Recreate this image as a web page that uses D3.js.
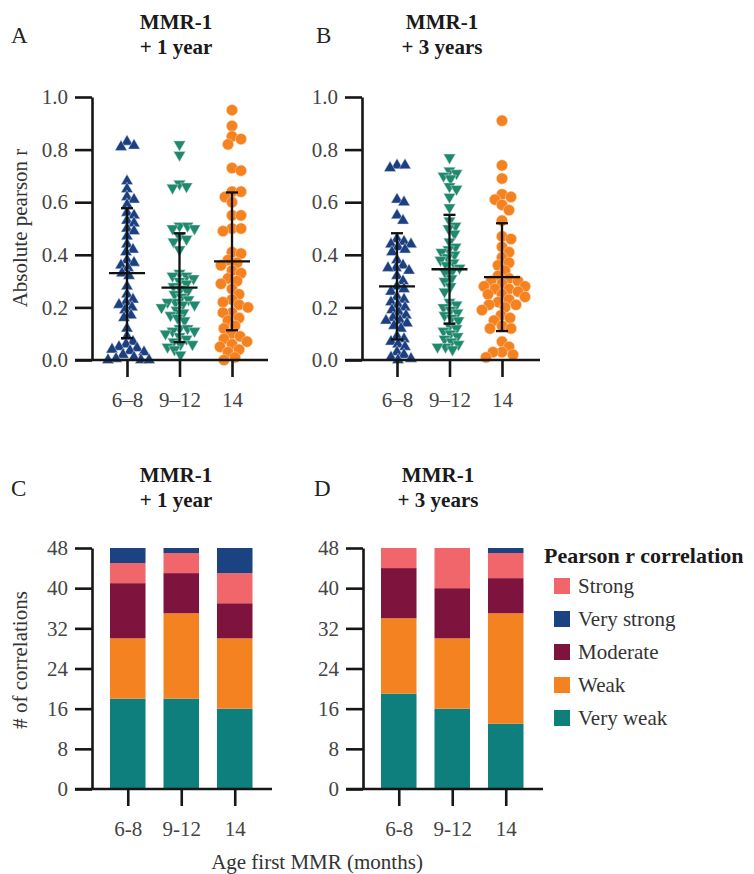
<!DOCTYPE html>
<html>
<head>
<meta charset="utf-8">
<script src="https://cdn.jsdelivr.net/npm/d3@7"></script>
</head>
<body style="margin:0">
<svg id="chart" width="754" height="874"></svg>
<script>
// ---------------- DATA ----------------
const groups = ["6–8", "9–12", "14"];
const barGroups = ["6-8", "9-12", "14"];

// Panel A: MMR-1 + 1 year (absolute pearson r)
const a_6_8 = [0.81, 0.815, 0.83, 0.68, 0.65, 0.62, 0.61, 0.59, 0.56, 0.55, 0.53, 0.52, 0.50, 0.49, 0.47, 0.44, 0.42, 0.41,
  0.38, 0.37, 0.36, 0.35, 0.33, 0.32, 0.28, 0.25, 0.23, 0.22, 0.21, 0.20,
  0.19, 0.17, 0.16, 0.12, 0.09, 0.07, 0.06, 0.05, 0.045, 0.04, 0.035, 0.03, 0.02, 0.01, 0.005, 0.0, 0.0, 0.0];
const a_9_12 = [0.82, 0.78, 0.67, 0.66, 0.655, 0.51, 0.51, 0.50, 0.50, 0.47, 0.46, 0.45, 0.42,
  0.33, 0.32, 0.32, 0.31, 0.30, 0.29, 0.28, 0.27, 0.26, 0.25, 0.24, 0.23, 0.22, 0.22, 0.21, 0.21, 0.20,
  0.19, 0.18, 0.17, 0.16, 0.15, 0.12, 0.12, 0.11, 0.11, 0.10, 0.09, 0.08, 0.07, 0.06, 0.06, 0.05, 0.04, 0.02];
const a_14 = [0.95, 0.89, 0.85, 0.84, 0.82, 0.73, 0.72, 0.64, 0.64, 0.62, 0.60, 0.55, 0.55, 0.50, 0.50, 0.49, 0.41, 0.405,
  0.38, 0.37, 0.36, 0.34, 0.33, 0.31, 0.30, 0.29, 0.27, 0.25, 0.23, 0.22, 0.21, 0.20,
  0.18, 0.18, 0.16, 0.15, 0.13, 0.12, 0.10, 0.09, 0.08, 0.07, 0.06, 0.05, 0.04, 0.03, 0.01, 0.0];
const meanA = [0.33, 0.275, 0.375];
const sdA = [0.247, 0.207, 0.262];

// Panel B: MMR-1 + 3 years
const b_6_8 = [0.74, 0.74, 0.73, 0.61, 0.60, 0.55, 0.53, 0.46, 0.45, 0.44, 0.44, 0.43, 0.42, 0.41,
  0.38, 0.36, 0.35, 0.35, 0.34, 0.32, 0.30, 0.28, 0.27, 0.26, 0.24, 0.23, 0.22, 0.21, 0.20,
  0.19, 0.18, 0.17, 0.16, 0.15, 0.15, 0.14, 0.13, 0.12, 0.09, 0.08, 0.07, 0.06, 0.05, 0.03, 0.02, 0.01, 0.005, 0.0];
const b_9_12 = [0.77, 0.72, 0.71, 0.70, 0.69, 0.66, 0.65, 0.62, 0.58, 0.53, 0.51, 0.50, 0.48, 0.45, 0.43, 0.42, 0.41, 0.40,
  0.39, 0.38, 0.37, 0.36, 0.35, 0.34, 0.33, 0.31, 0.30, 0.28, 0.26, 0.22, 0.21, 0.20,
  0.19, 0.18, 0.17, 0.16, 0.15, 0.13, 0.12, 0.11, 0.10, 0.09, 0.08, 0.07, 0.06, 0.05, 0.05, 0.04];
const b_14 = [0.91, 0.74, 0.69, 0.63, 0.62, 0.61, 0.59, 0.57, 0.53, 0.47, 0.46, 0.43, 0.41,
  0.39, 0.37, 0.36, 0.34, 0.32, 0.31, 0.30, 0.30, 0.29, 0.28, 0.28, 0.27, 0.27, 0.26, 0.25, 0.25, 0.24, 0.23, 0.22, 0.21, 0.21, 0.20,
  0.19, 0.17, 0.16, 0.15, 0.13, 0.12, 0.12, 0.07, 0.05, 0.03, 0.03, 0.02, 0.01];
const meanB = [0.28, 0.345, 0.315];
const sdB = [0.202, 0.207, 0.205];

// Panels C & D: number of correlations by strength (stack order bottom -> top)
const strengths = ["Very weak", "Weak", "Moderate", "Strong", "Very strong"];
const c_veryWeak = [18, 18, 16];
const c_weak = [12, 17, 14];
const c_moderate = [11, 8, 7];
const c_strong = [4, 4, 6];
const c_veryStrong = [3, 1, 5];
const d_veryWeak = [19, 16, 13];
const d_weak = [15, 14, 22];
const d_moderate = [10, 10, 7];
const d_strong = [4, 8, 5];
const d_veryStrong = [0, 0, 1];
const legendOrder = ["Strong", "Very strong", "Moderate", "Weak", "Very weak"];

const yTicksScatter = [0, 0.2, 0.4, 0.6, 0.8, 1.0];
const yTicksBar = [0, 8, 16, 24, 32, 40, 48];

// ---------------- STYLE ----------------
const FONT = "Liberation Serif";
const groupColors = ["#1c3f80", "#1f8a6b", "#f58220"];
const groupShapes = ["up", "down", "circle"];
const strengthColors = {
  "Very weak": "#0e7f7c",
  "Weak": "#f58220",
  "Moderate": "#7e143e",
  "Strong": "#f0666a",
  "Very strong": "#1b4381"
};
const axisColor = "#161616";
const tickTextColor = "#444";

const svg = d3.select("#chart");

// ---------------- HELPERS ----------------
function swarm(values, y, diam) {
  const pts = values.map(v => ({ v, y: y(v) })).sort((a, b) => a.y - b.y);
  const placed = [];
  pts.forEach(p => {
    let best = 0;
    for (let k = 0; k < 60; k++) {
      const cands = k === 0 ? [0] : [k, -k];
      let found = null;
      for (const dx of cands) {
        let ok = true;
        for (const q of placed) {
          const ddx = dx - q.dx, ddy = p.y - q.y;
          if (ddx * ddx + ddy * ddy < diam * diam) { ok = false; break; }
        }
        if (ok) { found = dx; break; }
      }
      if (found !== null) { best = found; break; }
    }
    p.dx = best;
    placed.push(p);
  });
  return placed;
}

function txt(sel) {
  return sel.attr("font-family", FONT).style("font-family", "'Liberation Serif', serif");
}

function titleBlock(cx, letterX, top, letter, line2) {
  txt(svg.append("text")).attr("x", letterX).attr("y", top + 14)
    .attr("font-size", 23).attr("fill", "#222").text(letter);
  txt(svg.append("text")).attr("x", cx).attr("y", top)
    .attr("text-anchor", "middle").attr("font-size", 21).attr("font-weight", "bold")
    .attr("fill", "#1a1a1a").text("MMR-1");
  txt(svg.append("text")).attr("x", cx).attr("y", top + 25)
    .attr("text-anchor", "middle").attr("font-size", 21).attr("font-weight", "bold")
    .attr("fill", "#1a1a1a").text(line2);
}

function drawAxes(axX, y, ticks, fmt, x, xEnd) {
  const g = svg.append("g");
  const y0 = y.range()[0];
  const ya = g.append("g").attr("transform", `translate(${axX},0)`)
    .call(d3.axisLeft(y).tickValues(ticks).tickFormat(fmt).tickSize(17).tickSizeOuter(0).tickPadding(7));
  ya.attr("font-family", FONT);
  ya.select(".domain").attr("stroke", axisColor).attr("stroke-width", 2.6);
  ya.selectAll(".tick line").attr("stroke", axisColor).attr("stroke-width", 2.6);
  txt(ya.selectAll(".tick text")).attr("fill", tickTextColor).attr("font-size", 21);
  g.append("line").attr("x1", axX - 17).attr("x2", xEnd).attr("y1", y0).attr("y2", y0)
    .attr("stroke", axisColor).attr("stroke-width", 2.6);
  const xa = g.append("g").attr("transform", `translate(0,${y0})`)
    .call(d3.axisBottom(x).tickSize(17).tickSizeOuter(0).tickPadding(10));
  xa.attr("font-family", FONT);
  xa.select(".domain").remove();
  xa.selectAll(".tick line").attr("stroke", axisColor).attr("stroke-width", 2.6);
  txt(xa.selectAll(".tick text")).attr("fill", tickTextColor).attr("font-size", 21).attr("dy", "0.95em");
}

function scatterPanel(axX, xEnd, datasets, means, sds) {
  const y = d3.scaleLinear().domain([0, 1]).range([360, 97]);
  const x = d3.scalePoint().domain(groups).range([axX + 35, axX + 140]);
  const markG = svg.append("g");
  datasets.forEach((vals, i) => {
    const cx = x(groups[i]);
    const shape = groupShapes[i];
    const pts = swarm(vals, y, shape === "circle" ? 8.5 : 7.4);
    const col = groupColors[i];
    if (shape === "circle") {
      markG.selectAll(null).data(pts).enter().append("circle")
        .attr("cx", d => cx + d.dx).attr("cy", d => d.y).attr("r", 5.6)
        .attr("fill", col).attr("stroke", "#fbd6b4").attr("stroke-width", 0.5);
    } else {
      const sym = d3.symbol().type(d3.symbolTriangle).size(62);
      markG.selectAll(null).data(pts).enter().append("path")
        .attr("d", sym)
        .attr("transform", d => `translate(${cx + d.dx},${d.y})` + (shape === "down" ? " rotate(180)" : ""))
        .attr("fill", col).attr("stroke", "#d5deea").attr("stroke-width", 0.5);
    }
  });
  const eg = svg.append("g").attr("stroke", "#111").attr("stroke-width", 2.3);
  groups.forEach((gname, i) => {
    const cx = x(gname);
    const m = means[i], s = sds[i];
    eg.append("line").attr("x1", cx).attr("x2", cx).attr("y1", y(m - s)).attr("y2", y(m + s));
    eg.append("line").attr("x1", cx - 18).attr("x2", cx + 18).attr("y1", y(m)).attr("y2", y(m));
    eg.append("line").attr("x1", cx - 6).attr("x2", cx + 6).attr("y1", y(m - s)).attr("y2", y(m - s));
    eg.append("line").attr("x1", cx - 6).attr("x2", cx + 6).attr("y1", y(m + s)).attr("y2", y(m + s));
  });
  drawAxes(axX, y, yTicksScatter, d3.format(".1f"), x, xEnd);
}

function barPanel(axX, xEnd, series) {
  const y = d3.scaleLinear().domain([0, 48]).range([789, 548]);
  const x = d3.scaleBand().domain(barGroups).range([axX + 18, axX + 160.5]).paddingInner(0.336).paddingOuter(0);
  const table = barGroups.map((g, i) => {
    const row = { group: g };
    strengths.forEach((s, k) => { row[s] = series[k][i]; });
    return row;
  });
  const stacked = d3.stack().keys(strengths)(table);
  const bw = x.bandwidth();
  svg.append("g").selectAll("g").data(stacked).enter().append("g")
    .attr("fill", d => strengthColors[d.key])
    .selectAll("rect").data(d => d).enter().append("rect")
    .attr("x", d => x(d.data.group))
    .attr("width", bw)
    .attr("y", d => y(d[1]))
    .attr("height", d => y(d[0]) - y(d[1]));
  const xp = d3.scalePoint().domain(barGroups).range([x(barGroups[0]) + bw / 2, x(barGroups[2]) + bw / 2]);
  drawAxes(axX, y, yTicksBar, d3.format("d"), xp, xEnd);
}

// ---------------- PANELS ----------------
titleBlock(176, 11, 29, "A", "+ 1 year");
titleBlock(442, 316, 29, "B", "+ 3 years");
titleBlock(176, 11, 482, "C", "+ 1 year");
titleBlock(438, 314, 482, "D", "+ 3 years");

scatterPanel(92, 268, [a_6_8, a_9_12, a_14], meanA, sdA);
scatterPanel(362, 540, [b_6_8, b_9_12, b_14], meanB, sdB);
barPanel(92, 272, [c_veryWeak, c_weak, c_moderate, c_strong, c_veryStrong]);
barPanel(363, 543, [d_veryWeak, d_weak, d_moderate, d_strong, d_veryStrong]);

// axis titles
txt(svg.append("text")).attr("transform", "translate(27,228) rotate(-90)")
  .attr("text-anchor", "middle").attr("font-size", 21).attr("fill", "#333").text("Absolute pearson r");
txt(svg.append("text")).attr("transform", "translate(27,660) rotate(-90)")
  .attr("text-anchor", "middle").attr("font-size", 21).attr("fill", "#333").text("# of correlations");
txt(svg.append("text")).attr("x", 317).attr("y", 869)
  .attr("text-anchor", "middle").attr("font-size", 21).attr("fill", "#333").text("Age first MMR (months)");

// legend
const lg = svg.append("g");
txt(lg.append("text")).attr("x", 544).attr("y", 563).attr("font-size", 22).attr("font-weight", "bold")
  .attr("fill", "#1a1a1a").text("Pearson r correlation");
const ly = d3.scalePoint().domain(legendOrder).range([586, 718]);
legendOrder.forEach(k => {
  lg.append("rect").attr("x", 554).attr("y", ly(k) - 8).attr("width", 16).attr("height", 16)
    .attr("fill", strengthColors[k]);
  txt(lg.append("text")).attr("x", 578).attr("y", ly(k)).attr("dy", "0.35em")
    .attr("font-size", 21).attr("fill", "#333").text(k);
});
</script>
</body>
</html>
